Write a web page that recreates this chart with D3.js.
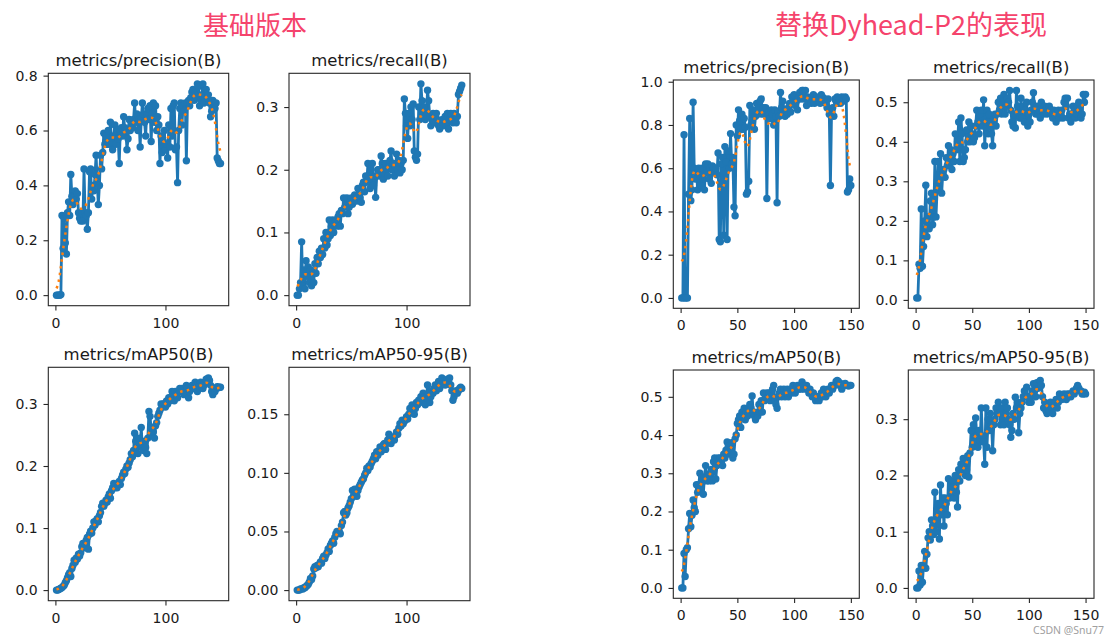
<!DOCTYPE html>
<html><head><meta charset="utf-8">
<script src="https://cdn.jsdelivr.net/npm/d3@7"></script>
<style>body{margin:0;background:#fff} svg{display:block}</style>
</head><body>
<svg id="chart" width="1120" height="642"></svg>
<script>
// ---------- DATA ----------
const epochs = d3.range(1, 151);

const groupTitles = ["基础版本", "替换Dyhead-P2的表现"];
const panelTitles = ["metrics/precision(B)", "metrics/recall(B)", "metrics/mAP50(B)", "metrics/mAP50-95(B)"];

const xticksBase = [0, 100];
const xticksDy = [0, 50, 100, 150];

const yticksBasePrecision = [0.0, 0.2, 0.4, 0.6, 0.8];
const yticksBaseRecall = [0.0, 0.1, 0.2, 0.3];
const yticksBaseMap50 = [0.0, 0.1, 0.2, 0.3];
const yticksBaseMap5095 = [0.00, 0.05, 0.10, 0.15];
const yticksDyPrecision = [0.0, 0.2, 0.4, 0.6, 0.8, 1.0];
const yticksDyRecall = [0.0, 0.1, 0.2, 0.3, 0.4, 0.5];
const yticksDyMap50 = [0.0, 0.1, 0.2, 0.3, 0.4, 0.5];
const yticksDyMap5095 = [0.0, 0.1, 0.2, 0.3];

const basePrecision = [
 0, 0, 0, 0, 0.002, 0.29, 0.17, 0.28, 0.19, 0.15,
 0.30, 0.34, 0.29, 0.44, 0.36, 0.33, 0.36, 0.38, 0.35, 0.37,
 0.30, 0.28, 0.27, 0.30, 0.27, 0.46, 0.30, 0.29, 0.24, 0.30,
 0.45, 0.46, 0.35, 0.40, 0.38, 0.44, 0.51, 0.41, 0.33, 0.40,
 0.51, 0.46, 0.52, 0.59, 0.55, 0.58, 0.55, 0.60, 0.55, 0.63,
 0.56, 0.53, 0.58, 0.62, 0.55, 0.60, 0.57, 0.48, 0.60, 0.61,
 0.58, 0.65, 0.61, 0.60, 0.53, 0.57, 0.64, 0.60, 0.62, 0.61,
 0.64, 0.70, 0.63, 0.66, 0.60, 0.64, 0.54, 0.64, 0.70, 0.66,
 0.63, 0.58, 0.66, 0.68, 0.64, 0.69, 0.56, 0.66, 0.70, 0.63,
 0.69, 0.60, 0.65, 0.62, 0.48, 0.58, 0.52, 0.56, 0.60, 0.53,
 0.55, 0.50, 0.62, 0.54, 0.68, 0.58, 0.69, 0.70, 0.53, 0.54,
 0.41, 0.60, 0.68, 0.70, 0.62, 0.69, 0.67, 0.70, 0.49, 0.70,
 0.71, 0.69, 0.72, 0.74, 0.75, 0.71, 0.73, 0.72, 0.77, 0.76,
 0.69, 0.71, 0.73, 0.77, 0.70, 0.73, 0.75, 0.72, 0.73, 0.70,
 0.65, 0.67, 0.71, 0.70, 0.68, 0.70, 0.50, 0.49, 0.48, 0.48
];
const baseRecall = [
 0, 0, 0.01, 0.02, 0.085, 0.015, 0.04, 0.01, 0.055, 0.03,
 0.045, 0.02, 0.04, 0.015, 0.035, 0.02, 0.05, 0.035, 0.06, 0.05,
 0.07, 0.06, 0.075, 0.065, 0.09, 0.075, 0.10, 0.08, 0.09, 0.12,
 0.095, 0.11, 0.12, 0.10, 0.115, 0.12, 0.11, 0.125, 0.13, 0.11,
 0.135, 0.13, 0.155, 0.14, 0.15, 0.155, 0.13, 0.14, 0.15, 0.155,
 0.145, 0.15, 0.16, 0.155, 0.15, 0.17, 0.16, 0.155, 0.148, 0.175,
 0.18, 0.165, 0.19, 0.18, 0.21, 0.185, 0.17, 0.20, 0.21, 0.175,
 0.19, 0.156, 0.19, 0.20, 0.20, 0.19, 0.222, 0.21, 0.185, 0.195,
 0.21, 0.20, 0.19, 0.205, 0.215, 0.23, 0.20, 0.21, 0.19, 0.205,
 0.225, 0.20, 0.215, 0.195, 0.21, 0.20, 0.215, 0.313, 0.29, 0.27,
 0.25, 0.29, 0.27, 0.30, 0.28, 0.305, 0.23, 0.22, 0.215, 0.225,
 0.30, 0.28, 0.337, 0.31, 0.29, 0.30, 0.28, 0.285, 0.327, 0.31,
 0.285, 0.27, 0.28, 0.29, 0.275, 0.285, 0.29, 0.28, 0.27, 0.265,
 0.27, 0.28, 0.27, 0.28, 0.285, 0.27, 0.29, 0.265, 0.28, 0.29,
 0.28, 0.275, 0.29, 0.28, 0.275, 0.285, 0.32, 0.325, 0.33, 0.335
];
const baseMap50 = [
 0, 0, 0.001, 0.002, 0.003, 0.004, 0.006, 0.008, 0.012, 0.015,
 0.02, 0.025, 0.028, 0.022, 0.035, 0.04, 0.048, 0.045, 0.052, 0.05,
 0.058, 0.055, 0.06, 0.07, 0.075, 0.068, 0.072, 0.08, 0.085, 0.066,
 0.09, 0.095, 0.092, 0.10, 0.11, 0.105, 0.112, 0.115, 0.11, 0.12,
 0.125, 0.135, 0.14, 0.135, 0.14, 0.145, 0.142, 0.15, 0.155, 0.148,
 0.16, 0.165, 0.172, 0.165, 0.17, 0.165, 0.172, 0.175, 0.17, 0.18,
 0.185, 0.19, 0.188, 0.195, 0.20, 0.198, 0.205, 0.21, 0.22, 0.215,
 0.225, 0.253, 0.24, 0.23, 0.22, 0.245, 0.235, 0.262, 0.23, 0.225,
 0.24, 0.23, 0.22, 0.245, 0.288, 0.28, 0.26, 0.25, 0.255, 0.245,
 0.265, 0.27, 0.28, 0.285, 0.29, 0.30, 0.295, 0.30, 0.30, 0.295,
 0.305, 0.30, 0.31, 0.305, 0.31, 0.32, 0.315, 0.305, 0.32, 0.315,
 0.31, 0.32, 0.325, 0.32, 0.325, 0.32, 0.315, 0.32, 0.33, 0.325,
 0.31, 0.32, 0.325, 0.33, 0.33, 0.325, 0.335, 0.33, 0.32, 0.325,
 0.33, 0.335, 0.33, 0.325, 0.33, 0.335, 0.34, 0.34, 0.342, 0.338,
 0.33, 0.32, 0.315, 0.325, 0.32, 0.325, 0.328, 0.326, 0.327, 0.327
];
const baseMap5095 = [
 0, 0, 0, 0.001, 0.001, 0.001, 0.002, 0.002, 0.003, 0.004,
 0.005, 0.007, 0.01, 0.009, 0.012, 0.018, 0.02, 0.019, 0.021, 0.02,
 0.022, 0.024, 0.023, 0.027, 0.029, 0.027, 0.03, 0.032, 0.035, 0.033,
 0.038, 0.04, 0.042, 0.04, 0.045, 0.048, 0.05, 0.049, 0.05, 0.048,
 0.055, 0.058, 0.066, 0.067, 0.064, 0.066, 0.07, 0.072, 0.075, 0.078,
 0.085, 0.08, 0.086, 0.082, 0.08, 0.085, 0.088, 0.09, 0.092, 0.094,
 0.095, 0.098, 0.10, 0.104, 0.102, 0.106, 0.105, 0.108, 0.11, 0.112,
 0.115, 0.112, 0.118, 0.115, 0.119, 0.122, 0.118, 0.12, 0.124, 0.125,
 0.12, 0.125, 0.128, 0.133, 0.13, 0.125, 0.128, 0.13, 0.128, 0.132,
 0.135, 0.133, 0.138, 0.142, 0.14, 0.145, 0.142, 0.144, 0.145, 0.148,
 0.146, 0.15, 0.155, 0.152, 0.158, 0.155, 0.15, 0.155, 0.16, 0.158,
 0.162, 0.16, 0.165, 0.163, 0.168, 0.165, 0.158, 0.164, 0.175, 0.168,
 0.16, 0.165, 0.17, 0.168, 0.172, 0.175, 0.17, 0.174, 0.178, 0.172,
 0.175, 0.181, 0.178, 0.176, 0.175, 0.178, 0.18, 0.178, 0.181, 0.175,
 0.17, 0.162, 0.165, 0.168, 0.17, 0.168, 0.17, 0.172, 0.173, 0.172
];

const dyPrecision = [
 0, 0, 0.755, 0, 0, 0, 0.48, 0.83, 0.45, 0.50,
 0.905, 0.60, 0.55, 0.58, 0.50, 0.60, 0.57, 0.52, 0.60, 0.55,
 0.50, 0.62, 0.58, 0.62, 0.55, 0.60, 0.53, 0.61, 0.60, 0.58,
 0.60, 0.57, 0.67, 0.27, 0.26, 0.62, 0.65, 0.29, 0.70, 0.63,
 0.27, 0.68, 0.60, 0.76, 0.62, 0.65, 0.42, 0.38, 0.80, 0.75,
 0.87, 0.82, 0.78, 0.85, 0.78, 0.83, 0.79, 0.48, 0.49, 0.54,
 0.89, 0.80, 0.82, 0.87, 0.78, 0.84, 0.90, 0.85, 0.88, 0.91,
 0.92, 0.85, 0.88, 0.86, 0.88, 0.46, 0.85, 0.86, 0.83, 0.87,
 0.85, 0.80, 0.87, 0.84, 0.44, 0.86, 0.84, 0.95, 0.88, 0.91,
 0.86, 0.84, 0.87, 0.85, 0.88, 0.90, 0.86, 0.93, 0.91, 0.94,
 0.89, 0.91, 0.87, 0.93, 0.95, 0.92, 0.96, 0.96, 0.92, 0.96,
 0.89, 0.93, 0.91, 0.92, 0.90, 0.93, 0.94, 0.90, 0.92, 0.93,
 0.91, 0.92, 0.90, 0.94, 0.93, 0.91, 0.92, 0.90, 0.88, 0.92,
 0.85, 0.52, 0.86, 0.88, 0.84, 0.92, 0.91, 0.93, 0.90, 0.92,
 0.90, 0.93, 0.91, 0.92, 0.93, 0.92, 0.49, 0.50, 0.55, 0.52
];
const dyRecall = [
 0.005, 0.005, 0.09, 0.08, 0.23, 0.085, 0.135, 0.20, 0.29, 0.16,
 0.21, 0.18, 0.25, 0.27, 0.19, 0.21, 0.35, 0.21, 0.28, 0.35,
 0.28, 0.37, 0.27, 0.32, 0.33, 0.31, 0.36, 0.34, 0.39, 0.35,
 0.38, 0.33, 0.37, 0.35, 0.42, 0.38, 0.40, 0.45, 0.35, 0.46,
 0.42, 0.35, 0.36, 0.38, 0.43, 0.40, 0.45, 0.40, 0.44, 0.42,
 0.40, 0.41, 0.44, 0.48, 0.45, 0.42, 0.47, 0.48, 0.44, 0.506,
 0.39, 0.45, 0.48, 0.42, 0.47, 0.45, 0.42, 0.39, 0.46, 0.47,
 0.44, 0.47, 0.50, 0.48, 0.51, 0.47, 0.50, 0.52, 0.47, 0.49,
 0.51, 0.50, 0.53, 0.48, 0.45, 0.44, 0.47, 0.435, 0.53, 0.49,
 0.47, 0.46, 0.51, 0.46, 0.49, 0.45, 0.48, 0.50, 0.44, 0.47,
 0.45, 0.48, 0.50, 0.524, 0.48, 0.47, 0.49, 0.47, 0.48, 0.46,
 0.50, 0.48, 0.47, 0.49, 0.48, 0.47, 0.48, 0.49, 0.48, 0.47,
 0.46, 0.48, 0.47, 0.45, 0.47, 0.48, 0.46, 0.47, 0.48, 0.46,
 0.50, 0.51, 0.49, 0.51, 0.46, 0.47, 0.45, 0.47, 0.49, 0.48,
 0.46, 0.47, 0.49, 0.50, 0.48, 0.46, 0.47, 0.52, 0.50, 0.52
];
const dyMap50 = [
 0, 0, 0.09, 0.03, 0.10, 0.105, 0.155, 0.195, 0.16, 0.19,
 0.23, 0.21, 0.20, 0.27, 0.25, 0.27, 0.30, 0.26, 0.29, 0.245,
 0.29, 0.32, 0.28, 0.29, 0.28, 0.30, 0.31, 0.28, 0.33, 0.34,
 0.285, 0.32, 0.34, 0.33, 0.34, 0.33, 0.32, 0.35, 0.34, 0.36,
 0.382, 0.37, 0.35, 0.36, 0.38, 0.34, 0.35, 0.39, 0.40, 0.43,
 0.44, 0.45, 0.42, 0.46, 0.45, 0.47, 0.44, 0.46, 0.45, 0.47,
 0.48, 0.47, 0.502, 0.46, 0.45, 0.44, 0.46, 0.45, 0.48, 0.46,
 0.49, 0.46, 0.51, 0.49, 0.50, 0.51, 0.50, 0.51, 0.49, 0.50,
 0.52, 0.53, 0.49, 0.48, 0.47, 0.50, 0.51, 0.52, 0.50, 0.51,
 0.52, 0.50, 0.51, 0.52, 0.50, 0.51, 0.52, 0.51, 0.53, 0.52,
 0.51, 0.52, 0.53, 0.52, 0.53, 0.52, 0.539, 0.53, 0.52, 0.53,
 0.53, 0.52, 0.51, 0.52, 0.51, 0.50, 0.51, 0.50, 0.49, 0.50,
 0.50, 0.49, 0.50, 0.51, 0.50, 0.52, 0.51, 0.50, 0.51, 0.52,
 0.51, 0.52, 0.53, 0.52, 0.53, 0.53, 0.54, 0.543, 0.54, 0.53,
 0.535, 0.52, 0.53, 0.53, 0.535, 0.53, 0.53, 0.528, 0.53, 0.53
];
const dyMap5095 = [
 0, 0, 0.03, 0.005, 0.04, 0.01, 0.04, 0.065, 0.035, 0.06,
 0.089, 0.10, 0.085, 0.121, 0.11, 0.095, 0.17, 0.10, 0.14, 0.15,
 0.087, 0.183, 0.13, 0.16, 0.11, 0.16, 0.15, 0.13, 0.194, 0.16,
 0.17, 0.19, 0.18, 0.16, 0.20, 0.17, 0.144, 0.21, 0.19, 0.22,
 0.21, 0.23, 0.22, 0.20, 0.21, 0.235, 0.197, 0.24, 0.28, 0.25,
 0.29, 0.26, 0.302, 0.27, 0.25, 0.28, 0.26, 0.32, 0.27, 0.26,
 0.22, 0.32, 0.25, 0.30, 0.28, 0.31, 0.29, 0.244, 0.29, 0.30,
 0.32, 0.31, 0.33, 0.31, 0.29, 0.32, 0.30, 0.29, 0.33, 0.31,
 0.32, 0.30, 0.29, 0.268, 0.28, 0.31, 0.30, 0.339, 0.32, 0.33,
 0.276, 0.31, 0.32, 0.33, 0.34, 0.35, 0.34, 0.357, 0.34, 0.33,
 0.34, 0.33, 0.35, 0.363, 0.35, 0.34, 0.365, 0.355, 0.36, 0.369,
 0.36, 0.34, 0.32, 0.33, 0.315, 0.31, 0.32, 0.315, 0.33, 0.32,
 0.31, 0.325, 0.33, 0.335, 0.32, 0.33, 0.345, 0.34, 0.335, 0.34,
 0.345, 0.34, 0.335, 0.345, 0.34, 0.345, 0.34, 0.345, 0.35, 0.345,
 0.35, 0.355, 0.36, 0.355, 0.35, 0.35, 0.345, 0.345, 0.348, 0.345
];

// ---------- LAYOUT ----------
const panels = [
  {title: panelTitles[0], values: basePrecision, yticks: yticksBasePrecision, dec: 1, xticks: xticksBase, box: [48.3, 73.3, 228.7, 305.7]},
  {title: panelTitles[1], values: baseRecall,    yticks: yticksBaseRecall,    dec: 1, xticks: xticksBase, box: [289.0, 73.3, 470.0, 305.7]},
  {title: panelTitles[2], values: baseMap50,     yticks: yticksBaseMap50,     dec: 1, xticks: xticksBase, box: [48.3, 367.3, 228.7, 600.7]},
  {title: panelTitles[3], values: baseMap5095,   yticks: yticksBaseMap5095,   dec: 2, xticks: xticksBase, box: [289.0, 367.3, 470.0, 600.7]},
  {title: panelTitles[0], values: dyPrecision,   yticks: yticksDyPrecision,   dec: 1, xticks: xticksDy, box: [673.3, 80.0, 859.3, 308.3]},
  {title: panelTitles[1], values: dyRecall,      yticks: yticksDyRecall,      dec: 1, xticks: xticksDy, box: [908.3, 80.0, 1094.0, 308.3]},
  {title: panelTitles[2], values: dyMap50,       yticks: yticksDyMap50,       dec: 1, xticks: xticksDy, box: [673.3, 370.0, 859.3, 598.3]},
  {title: panelTitles[3], values: dyMap5095,     yticks: yticksDyMap5095,     dec: 1, xticks: xticksDy, box: [908.3, 370.0, 1094.0, 598.3]}
];

// gaussian smoothing (sigma 3, reflect), as in the source plot
function gaussianSmooth(y, sigma) {
  const r = Math.round(4 * sigma);
  let w = [], s = 0;
  for (let i = -r; i <= r; i++) { const v = Math.exp(-0.5 * i * i / (sigma * sigma)); w.push(v); s += v; }
  w = w.map(v => v / s);
  const n = y.length;
  return y.map((_, i) => {
    let acc = 0;
    for (let k = -r; k <= r; k++) {
      let j = i + k;
      while (j < 0 || j >= n) { if (j < 0) j = -j - 1; if (j >= n) j = 2 * n - j - 1; }
      acc += w[k + r] * y[j];
    }
    return acc;
  });
}

const svg = d3.select("#chart");
svg.append("rect").attr("width", 1120).attr("height", 642).attr("fill", "#fff");

const FONT = "'DejaVu Sans', sans-serif";
const BLUE = "#1f77b4", ORANGE = "#ff7f0e";

panels.forEach(p => {
  const [x0, y0, x1, y1] = p.box;
  const n = epochs.length;
  const xr = epochs[n - 1] - epochs[0];
  const x = d3.scaleLinear().domain([epochs[0] - 0.05 * xr, epochs[n - 1] + 0.05 * xr]).range([x0, x1]);
  const smooth = gaussianSmooth(p.values, 3);
  const all = p.values.concat(smooth);
  const mn = d3.min(all), mx = d3.max(all), pad = 0.05 * (mx - mn);
  const y = d3.scaleLinear().domain([mn - pad, mx + pad]).range([y1, y0]);

  const g = svg.append("g");
  const pts = epochs.map((e, i) => [e, p.values[i]]);
  const line = d3.line().x(d => x(d[0])).y(d => y(d[1]));

  g.append("path").attr("d", line(pts)).attr("fill", "none")
    .attr("stroke", BLUE).attr("stroke-width", 2.8).attr("stroke-linejoin", "round");
  g.selectAll("circle").data(pts).join("circle")
    .attr("cx", d => x(d[0])).attr("cy", d => y(d[1])).attr("r", 3.7).attr("fill", BLUE);
  g.append("path").attr("d", line(epochs.map((e, i) => [e, smooth[i]]))).attr("fill", "none")
    .attr("stroke", ORANGE).attr("stroke-width", 2.5).attr("stroke-dasharray", "2.5,4.3");

  // spines
  g.append("rect").attr("x", x0).attr("y", y0).attr("width", x1 - x0).attr("height", y1 - y0)
    .attr("fill", "none").attr("stroke", "#262626").attr("stroke-width", 1.1);

  const xa = g.append("g").attr("transform", `translate(0,${y1})`)
    .call(d3.axisBottom(x).tickValues(p.xticks).tickFormat(d3.format("d")).tickSize(4.8).tickPadding(7.3));
  const ya = g.append("g").attr("transform", `translate(${x0},0)`)
    .call(d3.axisLeft(y).tickValues(p.yticks).tickFormat(d3.format("." + p.dec + "f")).tickSize(4.8).tickPadding(5.8));
  [xa, ya].forEach(a => {
    a.select(".domain").remove();
    a.selectAll("line").attr("stroke", "#262626").attr("stroke-width", 1.1);
    a.selectAll("text").attr("fill", "#1a1a1a").style("font-family", FONT).style("font-size", "14px");
  });

  g.append("text").attr("x", (x0 + x1) / 2).attr("y", y0 - 7.5).attr("text-anchor", "middle")
    .style("font-family", FONT).style("font-size", "16.5px").attr("fill", "#1a1a1a").text(p.title);
});

// group headings
const CJK = "'Noto Sans CJK SC', 'Noto Sans', sans-serif";
svg.append("text").attr("x", 255).attr("y", 35).attr("text-anchor", "middle")
  .style("font-family", CJK).style("font-size", "26px").attr("fill", "#f5436c").text(groupTitles[0]);
svg.append("text").attr("x", 911).attr("y", 35).attr("text-anchor", "middle")
  .style("font-family", CJK).style("font-size", "27px").attr("fill", "#f5436c").text(groupTitles[1]);

// watermark
svg.append("text").attr("x", 1104).attr("y", 634).attr("text-anchor", "end")
  .style("font-family", "'Noto Sans', sans-serif").style("font-size", "10.5px").attr("fill", "#a0a0a0").text("CSDN @Snu77");
</script>
</body></html>
